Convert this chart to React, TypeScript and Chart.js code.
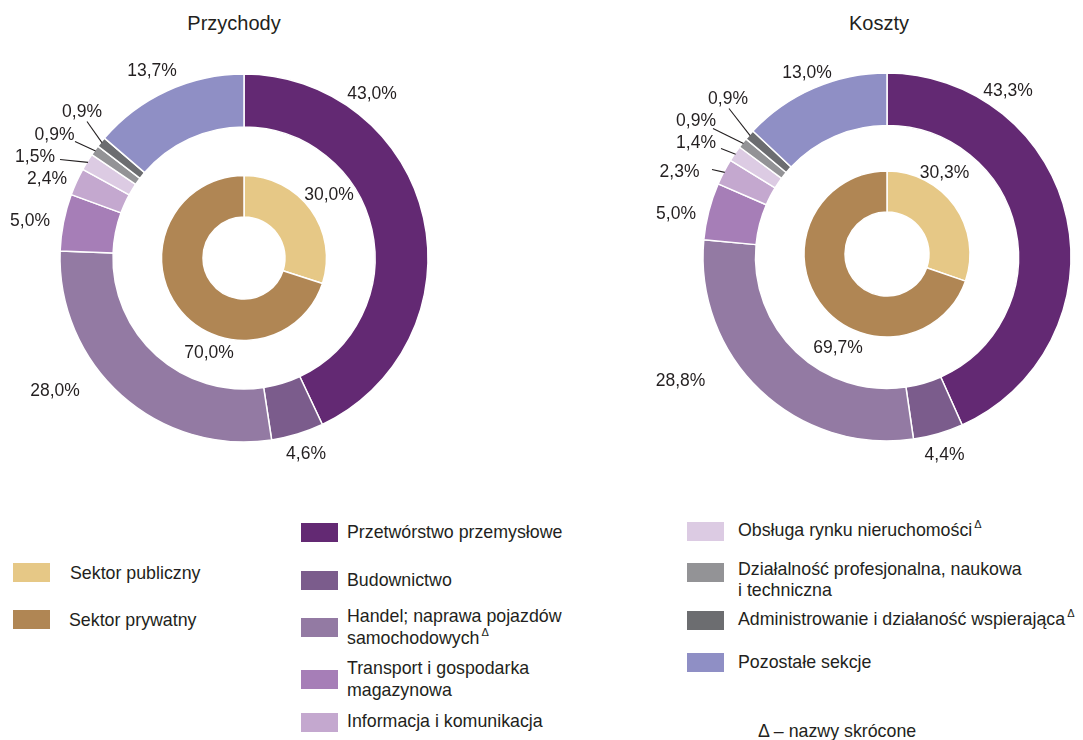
import React, { useEffect, useRef } from 'react';
import { Chart, registerables } from 'chart.js';

Chart.register(...registerables);

// ---------- DATA ----------
const TITLES = ['Przychody', 'Koszty'];
const SECTIONS = [
  'Przetwórstwo przemysłowe',
  'Budownictwo',
  'Handel; naprawa pojazdów samochodowych',
  'Transport i gospodarka magazynowa',
  'Informacja i komunikacja',
  'Obsługa rynku nieruchomości',
  'Działalność profesjonalna, naukowa i techniczna',
  'Administrowanie i działaność wspierająca',
  'Pozostałe sekcje',
];
const SECTORS = ['Sektor publiczny', 'Sektor prywatny'];
const REVENUE_SECTIONS = [43.0, 4.6, 28.0, 5.0, 2.4, 1.5, 0.9, 0.9, 13.7];
const COST_SECTIONS = [43.3, 4.4, 28.8, 5.0, 2.3, 1.4, 0.9, 0.9, 13.0];
const REVENUE_SECTORS = [30.0, 70.0];
const COST_SECTORS = [30.3, 69.7];
const SECTION_LEGEND_LINES = [
  ['Przetwórstwo przemysłowe'],
  ['Budownictwo'],
  ['Handel; naprawa pojazdów', 'samochodowych'],
  ['Transport i gospodarka', 'magazynowa'],
  ['Informacja i komunikacja'],
  ['Obsługa rynku nieruchomości'],
  ['Działalność profesjonalna, naukowa', 'i techniczna'],
  ['Administrowanie i działaność wspierająca'],
  ['Pozostałe sekcje'],
];
const SECTION_SHORTENED = [false, false, true, false, false, true, false, true, false];
const FOOTNOTE = '\u0394 \u2013 nazwy skrócone';

// ---------- STYLES / LAYOUT ----------
const SECTION_COLORS = ['#632973', '#7b5c8c', '#937aa3', '#a67eb7', '#c4a8cf', '#dccbe3', '#939396', '#6c6d70', '#8f8fc5'];
const SECTOR_COLORS = ['#e6c886', '#b08654'];
const TEXT = '#231f20';
const FONT = '"Liberation Sans", Arial, sans-serif';
const LABEL_FS = 17.5;
const LEGEND_FS = 17.8;
const HALF = 250;

// label centres relative to ring centre
const REV_OUTER_LABELS = [[128, -165.5], [62, 194.5], [-189, 131.5], [-214, -38.5], [-197, -80.5], [-209, -102.5], [-189.5, -124], [-162, -147.5], [-92, -188.5]];
const REV_OUTER_LEADERS = [null, null, null, null, null, [-184, -98.5], [-169, -116.5], [-157, -136.5], null];
const REV_INNER_LABELS = [[85, -64.5], [-35, 93.5]];
const COST_OUTER_LABELS = [[121, -167.5], [57.5, 197], [-206.5, 122.5], [-211, -44], [-207.5, -86.5], [-191, -115], [-191, -137.5], [-159, -159], [-80, -185.5]];
const COST_OUTER_LEADERS = [null, null, null, null, [-175, -87.5], [-166, -108.5], [-174, -128.5], [-158, -148.5], null];
const COST_INNER_LABELS = [[57.5, -82.5], [-49, 92.5]];

const SECTION_LEGEND_POS = [
  { sx: 301, sy: 523, tx: 347, bl: [539] },
  { sx: 301, sy: 571, tx: 347, bl: [587] },
  { sx: 301, sy: 618, tx: 347, bl: [623, 645] },
  { sx: 301, sy: 670, tx: 347, bl: [675.5, 697.5] },
  { sx: 301, sy: 713, tx: 347, bl: [728] },
  { sx: 687, sy: 522, tx: 738, bl: [537.5] },
  { sx: 687, sy: 563, tx: 738, bl: [576, 597] },
  { sx: 687, sy: 611, tx: 738, bl: [626] },
  { sx: 687, sy: 653, tx: 738, bl: [669] },
];
const SECTOR_LEGEND_POS = [
  { sx: 13, sy: 563, tx: 70, bl: [580.5] },
  { sx: 13, sy: 610, tx: 69, bl: [627] },
];

const fmt = (v: number) => v.toFixed(1).replace('.', ',') + '%';

const ringLabels = {
  id: 'ringLabels',
  afterDatasetsDraw(chart: any, _args: any, opts: any) {
    const meta = chart.getDatasetMeta(0);
    const data = chart.data.datasets[0].data as number[];
    const ctx = chart.ctx as CanvasRenderingContext2D;
    ctx.save();
    meta.data.forEach((arc: any, i: number) => {
      const p = arc.getProps(['x', 'y', 'startAngle', 'endAngle', 'outerRadius'], true);
      const mid = (p.startAngle + p.endAngle) / 2;
      const lead = opts.leaders ? opts.leaders[i] : null;
      if (lead) {
        ctx.beginPath();
        ctx.moveTo(p.x + lead[0], p.y + lead[1]);
        ctx.lineTo(p.x + Math.cos(mid) * (p.outerRadius - 1), p.y + Math.sin(mid) * (p.outerRadius - 1));
        ctx.strokeStyle = TEXT;
        ctx.lineWidth = 1.1;
        ctx.stroke();
      }
      const lp = opts.labels[i];
      ctx.font = `${LABEL_FS}px ${FONT}`;
      ctx.fillStyle = TEXT;
      ctx.textAlign = 'center';
      ctx.textBaseline = 'alphabetic';
      ctx.fillText(fmt(data[i]), p.x + lp[0], p.y + lp[1] + 0.358 * LABEL_FS);
    });
    ctx.restore();
  },
};

function Ring(props: { cx: number; cy: number; values: number[]; colors: string[]; names: string[]; radius: number; inner: number; labels: number[][]; leaders?: any[] }) {
  const ref = useRef<HTMLCanvasElement>(null);
  useEffect(() => {
    const chart = new Chart(ref.current as HTMLCanvasElement, {
      type: 'doughnut',
      data: {
        labels: props.names,
        datasets: [{ data: props.values, backgroundColor: props.colors, borderColor: '#ffffff', borderWidth: 1.5, hoverOffset: 0 } as any],
      },
      options: {
        responsive: false,
        animation: false,
        events: [],
        radius: props.radius,
        cutout: (props.inner / props.radius) * 100 + '%',
        rotation: 0,
        circumference: 360,
        layout: { padding: 0 },
        plugins: {
          legend: { display: false },
          tooltip: { enabled: false },
          ringLabels: { labels: props.labels, leaders: props.leaders },
        } as any,
      } as any,
      plugins: [ringLabels as any],
    });
    return () => chart.destroy();
  }, []);
  return (
    <canvas
      ref={ref}
      width={2 * HALF}
      height={2 * HALF}
      style={{ position: 'absolute', left: props.cx - HALF, top: props.cy - HALF, width: 2 * HALF, height: 2 * HALF }}
    />
  );
}

function Txt({ x, bl, fs, children, center }: any) {
  const style: any = {
    position: 'absolute',
    top: bl - 0.8465 * fs,
    fontSize: fs,
    lineHeight: `${fs}px`,
    whiteSpace: 'nowrap',
    color: TEXT,
    fontFamily: FONT,
  };
  if (center) {
    style.left = x - 150;
    style.width = 300;
    style.textAlign = 'center';
  } else {
    style.left = x;
  }
  return <div style={style}>{children}</div>;
}

const Sup = () => (
  <span style={{ fontSize: 11, position: 'relative', top: -8, marginLeft: 2, lineHeight: 0 }}>{'\u0394'}</span>
);

function LegendItem({ pos, color, lines, shortened }: any) {
  return (
    <>
      <div style={{ position: 'absolute', left: pos.sx, top: pos.sy, width: 37, height: 19, background: color }} />
      {lines.map((ln: string, k: number) => (
        <Txt key={k} x={pos.tx} bl={pos.bl[k]} fs={LEGEND_FS}>
          {ln}
          {shortened && k === lines.length - 1 ? <Sup /> : null}
        </Txt>
      ))}
    </>
  );
}

export default function App() {
  return (
    <div style={{ position: 'absolute', left: 0, top: 0, width: 1083, height: 740, overflow: 'hidden', background: '#fff', fontFamily: FONT }}>
      <Txt x={234} bl={30} fs={20} center>{TITLES[0]}</Txt>
      <Txt x={879} bl={30} fs={20} center>{TITLES[1]}</Txt>

      <Ring cx={244} cy={258} values={REVENUE_SECTIONS} colors={SECTION_COLORS} names={SECTIONS} radius={184} inner={131} labels={REV_OUTER_LABELS} leaders={REV_OUTER_LEADERS} />
      <Ring cx={244} cy={258} values={REVENUE_SECTORS} colors={SECTOR_COLORS} names={SECTORS} radius={82.5} inner={41} labels={REV_INNER_LABELS} />
      <Ring cx={887} cy={257} values={COST_SECTIONS} colors={SECTION_COLORS} names={SECTIONS} radius={184} inner={131.5} labels={COST_OUTER_LABELS} leaders={COST_OUTER_LEADERS} />
      <Ring cx={887} cy={254} values={COST_SECTORS} colors={SECTOR_COLORS} names={SECTORS} radius={83} inner={42} labels={COST_INNER_LABELS} />

      {SECTORS.map((s, i) => (
        <LegendItem key={s} pos={SECTOR_LEGEND_POS[i]} color={SECTOR_COLORS[i]} lines={[s]} shortened={false} />
      ))}
      {SECTIONS.map((s, i) => (
        <LegendItem key={s} pos={SECTION_LEGEND_POS[i]} color={SECTION_COLORS[i]} lines={SECTION_LEGEND_LINES[i]} shortened={SECTION_SHORTENED[i]} />
      ))}
      <Txt x={758} bl={738} fs={LEGEND_FS}>{FOOTNOTE}</Txt>
    </div>
  );
}
